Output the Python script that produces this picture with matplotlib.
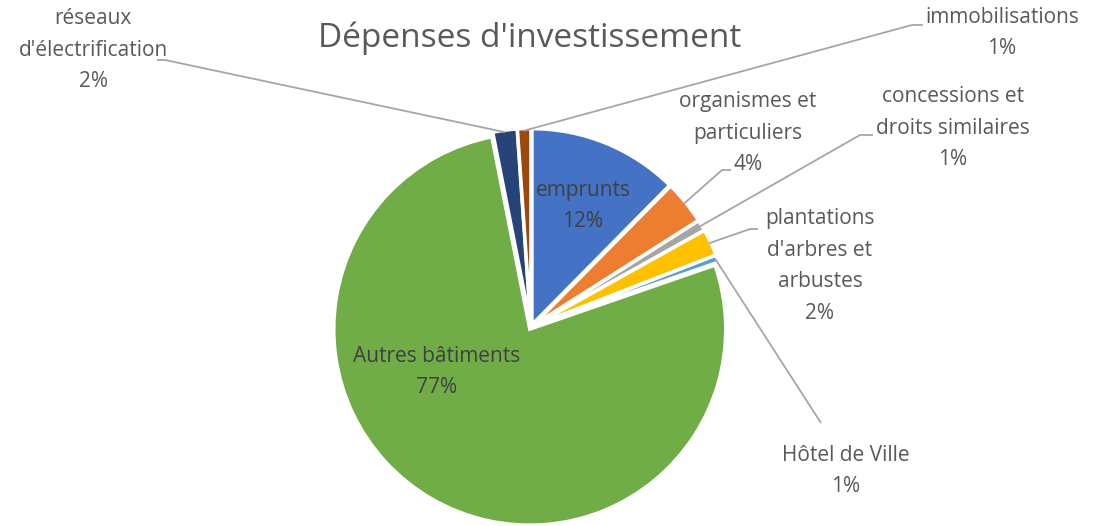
import numpy as np
import matplotlib
matplotlib.use('Agg')
import matplotlib.pyplot as plt

plt.rcParams['font.family'] = ['Open Sans', 'DejaVu Sans']

# données (en %)
labels = ['emprunts', 'organismes et\nparticuliers', 'concessions et\ndroits similaires',
          "plantations\nd'arbres et\narbustes", 'Hôtel de Ville', 'Autres bâtiments',
          "réseaux\nd'électrification", 'immobilisations']
values = [12.4, 3.6, 0.9, 2.2, 0.6, 77.2, 2.0, 1.1]
colors = ['#4472C4', '#ED7D31', '#A5A5A5', '#FFC000', '#5B9BD5', '#70AD47', '#264478', '#9E480E']

W, H = 1101, 526
fig = plt.figure(figsize=(W / 100, H / 100), dpi=100)
ax = fig.add_axes([0, 0, 1, 1])

cx, cy, R = 531, H - 327, 196
wedges, _ = ax.pie(values, colors=colors, startangle=90, counterclock=False,
                   center=(cx, cy), radius=R, explode=[2.5] * len(values),
                   wedgeprops=dict(edgecolor='white', linewidth=2.5))
ax.set_xlim(0, W)
ax.set_ylim(0, H)
ax.set_aspect('equal')
ax.axis('off')

ax.text(530, H - 38, "Dépenses d'investissement", ha='center', va='center',
        fontsize=24, color='#595959')

pcts = ['%d%%' % round(v) for v in values]
txt_col = '#595959'
fs = 15
ls = 1.68

# étiquettes internes
ax.text(583, H - 206, labels[0] + '\n' + pcts[0], ha='center', va='center',
        fontsize=fs, color='#404040', linespacing=ls)
ax.text(437, H - 372, labels[5] + '\n' + pcts[5], ha='center', va='center',
        fontsize=fs, color='#404040', linespacing=ls)

# étiquettes externes: (index, centre du texte, coude, fin de ligne)
outside = [
    (1, (748, 133), (722, 170), (731, 170)),
    (2, (953, 128), (860, 135), (873, 135)),
    (3, (820, 266), (750, 229), (758, 229)),
    (4, (846, 471), (821, 423), None),
    (6, (93, 50), (165, 60), (157, 60)),
    (7, (1002, 33), (912, 25), (923, 25)),
]
for i, tpos, elbow, end in outside:
    w = wedges[i]
    ang = np.deg2rad((w.theta1 + w.theta2) / 2)
    px = w.center[0] + (R - 2) * np.cos(ang)
    py = w.center[1] + (R - 2) * np.sin(ang)
    xs = [px, elbow[0]]
    ys = [py, H - elbow[1]]
    if end is not None:
        xs.append(end[0])
        ys.append(H - end[1])
    ax.plot(xs, ys, color='#A6A6A6', lw=1.3, solid_capstyle='butt')
    ax.text(tpos[0], H - tpos[1], labels[i] + '\n' + pcts[i], ha='center', va='center',
            fontsize=fs, color=txt_col, linespacing=ls)

fig.savefig('out.png', dpi=100, facecolor='white')
